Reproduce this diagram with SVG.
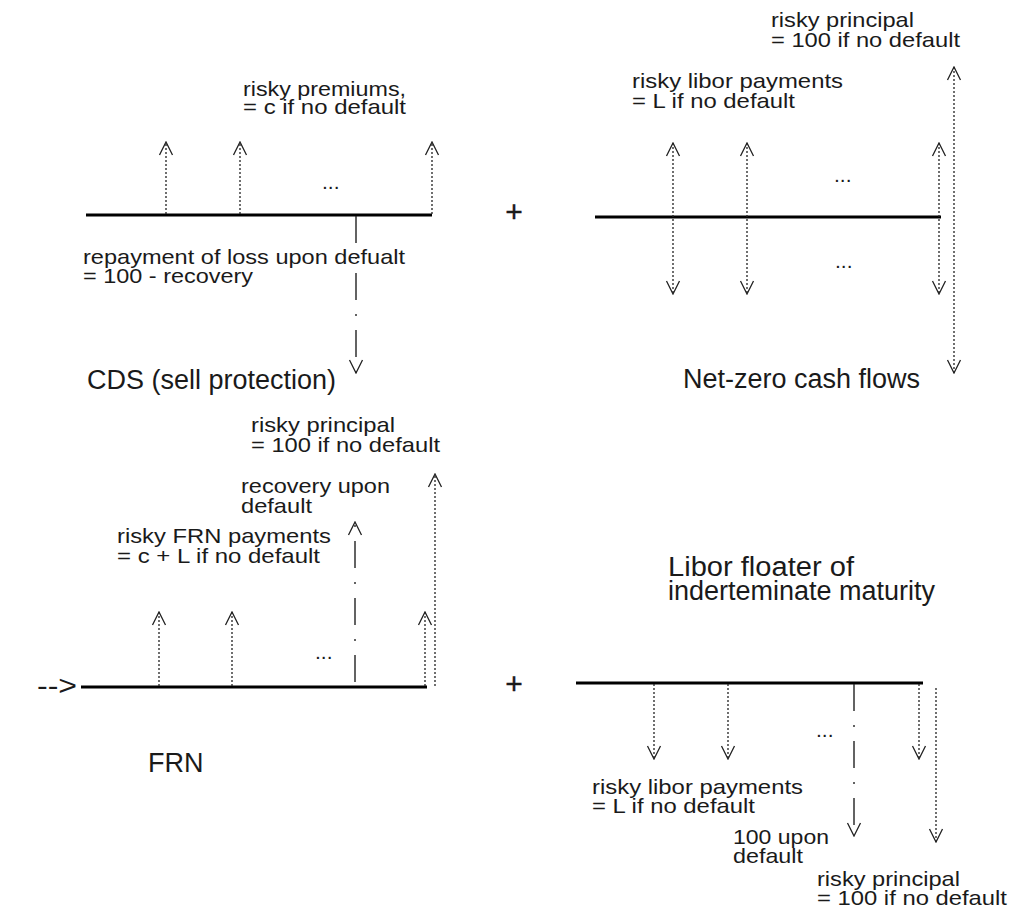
<svg xmlns="http://www.w3.org/2000/svg" width="1011" height="911" viewBox="0 0 1011 911">
<style>
text{font-family:"Liberation Sans",Arial,sans-serif;fill:#1a1a1a}
.lbl{font-size:21px}
.ttl{font-size:27px}
.axis{stroke:#000;stroke-width:3;fill:none}
.dot{stroke:#222;stroke-width:1.3;stroke-dasharray:2 2;fill:none}
.dd{stroke:#222;stroke-width:1.4;stroke-dasharray:27 14 2 14;fill:none}
.plus{font-size:30px;stroke:#1a1a1a;stroke-width:0.4}
</style>
<defs>
<marker id="ah" viewBox="-15 -8 16 16" refX="0" refY="0" markerWidth="16" markerHeight="16" markerUnits="userSpaceOnUse" orient="auto-start-reverse">
<path d="M-13,-6.5 L0,0 L-13,6.5" fill="none" stroke="#222" stroke-width="1.3" stroke-dasharray="none"/>
</marker>
</defs>
<rect width="1011" height="911" fill="#fff"/>

<g id="cds">
<line class="axis" x1="86" y1="215" x2="432" y2="215"/>
<text class="lbl" x="243" y="96" textLength="163" lengthAdjust="spacingAndGlyphs">risky premiums,</text>
<text class="lbl" x="243" y="114" textLength="163" lengthAdjust="spacingAndGlyphs">= c if no default</text>
<text class="lbl" x="322" y="189">...</text>
<text class="lbl" x="83" y="264" textLength="322" lengthAdjust="spacingAndGlyphs">repayment of loss upon defualt</text>
<text class="lbl" x="83" y="283" textLength="170" lengthAdjust="spacingAndGlyphs">= 100 - recovery</text>
<text class="ttl" x="87" y="389" textLength="249" lengthAdjust="spacingAndGlyphs">CDS (sell protection)</text>
</g>

<g id="netzero">
<line class="axis" x1="595" y1="217" x2="941" y2="217"/>
<text class="lbl" x="771" y="27" textLength="143" lengthAdjust="spacingAndGlyphs">risky principal</text>
<text class="lbl" x="771" y="47" textLength="189" lengthAdjust="spacingAndGlyphs">= 100 if no default</text>
<text class="lbl" x="632" y="88" textLength="211" lengthAdjust="spacingAndGlyphs">risky libor payments</text>
<text class="lbl" x="632" y="108" textLength="163" lengthAdjust="spacingAndGlyphs">= L if no default</text>
<text class="lbl" x="834" y="182">...</text>
<text class="lbl" x="835" y="268">...</text>
<text class="ttl" x="683" y="388" textLength="237" lengthAdjust="spacingAndGlyphs">Net-zero cash flows</text>
</g>

<g id="frn">
<text class="ttl" x="37" y="695" textLength="40" lengthAdjust="spacingAndGlyphs">--&gt;</text>
<line class="axis" x1="81" y1="687" x2="427" y2="687"/>
<text class="lbl" x="251" y="432" textLength="144" lengthAdjust="spacingAndGlyphs">risky principal</text>
<text class="lbl" x="251" y="452" textLength="189" lengthAdjust="spacingAndGlyphs">= 100 if no default</text>
<text class="lbl" x="241" y="493" textLength="149" lengthAdjust="spacingAndGlyphs">recovery upon</text>
<text class="lbl" x="241" y="513" textLength="71" lengthAdjust="spacingAndGlyphs">default</text>
<text class="lbl" x="117" y="543" textLength="214" lengthAdjust="spacingAndGlyphs">risky FRN payments</text>
<text class="lbl" x="117" y="563" textLength="203" lengthAdjust="spacingAndGlyphs">= c + L if no default</text>
<text class="lbl" x="315" y="659">...</text>
<text class="ttl" x="148" y="772" font-size="26">FRN</text>
</g>

<g id="floater">
<text class="ttl" x="668" y="576" textLength="186" lengthAdjust="spacingAndGlyphs">Libor floater of</text>
<text class="ttl" x="668" y="600" textLength="267" lengthAdjust="spacingAndGlyphs">inderteminate maturity</text>
<line class="axis" x1="576" y1="683" x2="923" y2="683"/>
<text class="lbl" x="816" y="737">...</text>
<text class="lbl" x="592" y="794" textLength="211" lengthAdjust="spacingAndGlyphs">risky libor payments</text>
<text class="lbl" x="592" y="813" textLength="163" lengthAdjust="spacingAndGlyphs">= L if no default</text>
<text class="lbl" x="733" y="844" textLength="96" lengthAdjust="spacingAndGlyphs">100 upon</text>
<text class="lbl" x="733" y="863" textLength="70" lengthAdjust="spacingAndGlyphs">default</text>
<text class="lbl" x="817" y="886" textLength="143" lengthAdjust="spacingAndGlyphs">risky principal</text>
<text class="lbl" x="817" y="905" textLength="190" lengthAdjust="spacingAndGlyphs">= 100 if no default</text>
</g>

<g id="plus-top"><text class="plus" x="514" y="222" text-anchor="middle">+</text></g>
<g id="plus-bottom"><text class="plus" x="514" y="694" text-anchor="middle">+</text></g>

<g id="connectors">
<line class="dot" x1="166" y1="214" x2="166" y2="142" marker-end="url(#ah)"/>
<line class="dot" x1="240" y1="214" x2="240" y2="142" marker-end="url(#ah)"/>
<line class="dot" x1="432" y1="214" x2="432" y2="142" marker-end="url(#ah)"/>
<line class="dd" x1="356" y1="216" x2="356" y2="373" marker-end="url(#ah)"/>

<line class="dot" x1="673" y1="143" x2="673" y2="294" marker-start="url(#ah)" marker-end="url(#ah)"/>
<line class="dot" x1="747" y1="143" x2="747" y2="294" marker-start="url(#ah)" marker-end="url(#ah)"/>
<line class="dot" x1="939" y1="143" x2="939" y2="294" marker-start="url(#ah)" marker-end="url(#ah)"/>
<line class="dot" x1="954" y1="67" x2="954" y2="373" marker-start="url(#ah)" marker-end="url(#ah)"/>

<line class="dot" x1="159" y1="686" x2="159" y2="612" marker-end="url(#ah)"/>
<line class="dot" x1="232" y1="686" x2="232" y2="612" marker-end="url(#ah)"/>
<line class="dot" x1="425" y1="686" x2="425" y2="612" marker-end="url(#ah)"/>
<line class="dot" x1="435" y1="686" x2="435" y2="474" marker-end="url(#ah)"/>
<line class="dd" x1="355" y1="682" x2="355" y2="522" marker-end="url(#ah)"/>

<line class="dot" x1="654" y1="684" x2="654" y2="759" marker-end="url(#ah)"/>
<line class="dot" x1="728" y1="684" x2="728" y2="759" marker-end="url(#ah)"/>
<line class="dot" x1="919" y1="684" x2="919" y2="759" marker-end="url(#ah)"/>
<line class="dd" x1="854" y1="684" x2="854" y2="836" marker-end="url(#ah)"/>
<line class="dot" x1="936" y1="688" x2="936" y2="842" marker-end="url(#ah)"/>
</g>
</svg>
